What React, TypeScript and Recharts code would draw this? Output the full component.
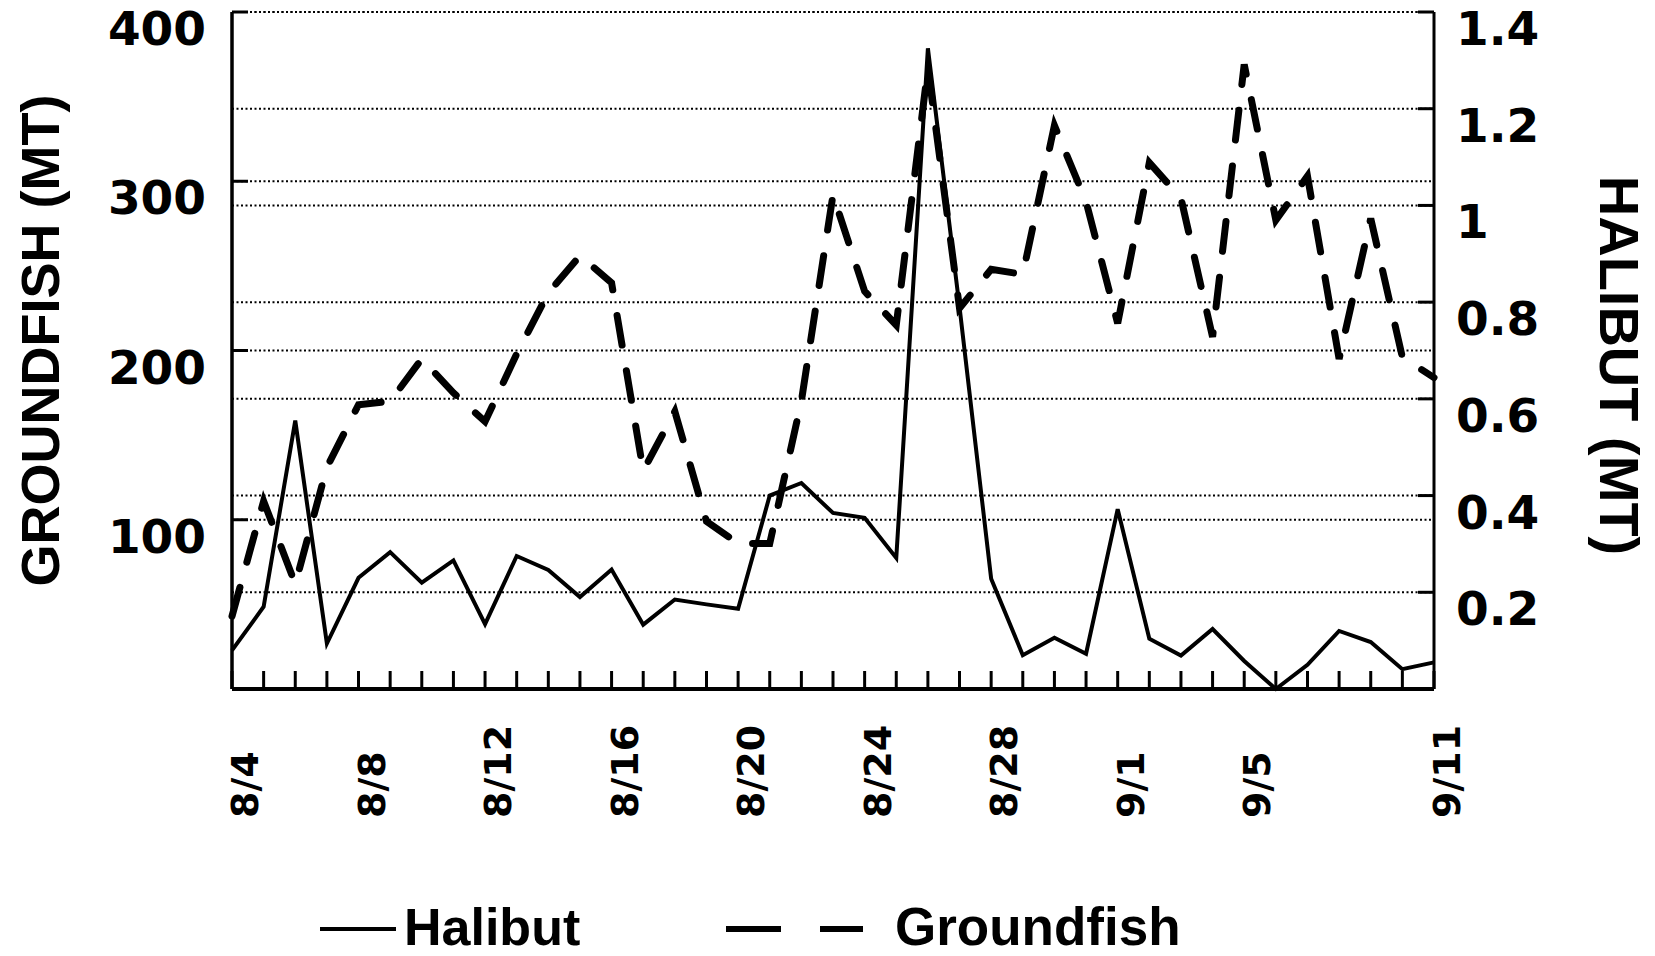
import { CartesianGrid, Line, LineChart, XAxis, YAxis } from "recharts";

const dates = [
  "8/4", "8/5", "8/6", "8/7", "8/8", "8/9", "8/10", "8/11", "8/12", "8/13",
  "8/14", "8/15", "8/16", "8/17", "8/18", "8/19", "8/20", "8/21", "8/22", "8/23",
  "8/24", "8/25", "8/26", "8/27", "8/28", "8/29", "8/30", "8/31", "9/1", "9/2",
  "9/3", "9/4", "9/5", "9/6", "9/7", "9/8", "9/9", "9/10", "9/11",
];

// halibut (MT), right axis
const halibut = [
  0.08, 0.17, 0.555, 0.094, 0.23, 0.283, 0.22, 0.266, 0.134, 0.275,
  0.246, 0.19, 0.247, 0.133, 0.185, 0.175, 0.166, 0.4, 0.426, 0.364,
  0.354, 0.271, 1.325, 0.79, 0.228, 0.07, 0.106, 0.073, 0.372, 0.104,
  0.069, 0.124, 0.058, 0, 0.05, 0.12, 0.097, 0.041, 0.055,
];

// groundfish (MT), left axis
const groundfish = [
  43, 111, 62, 131, 168, 170, 195, 175, 158, 198,
  234, 256, 240, 129, 164, 99, 86, 86, 170, 292,
  235, 215, 367, 225, 248, 245, 333, 288, 216, 311,
  290, 208, 369, 277, 303, 195, 278, 196, 184,
];

const labeledDates = ["8/4", "8/8", "8/12", "8/16", "8/20", "8/24", "8/28", "9/1", "9/5", "9/11"];
const groundfishTicks = [100, 200, 300, 400];
const halibutTicks = [0.2, 0.4, 0.6, 0.8, 1, 1.2, 1.4];

const data = dates.map((date, i) => ({ date, halibut: halibut[i], groundfish: groundfish[i] }));

const tickFont = { fontFamily: "DejaVu Sans", fontWeight: 700, fill: "#000" };
const titleFont = { fontFamily: "Liberation Sans", fontWeight: 700, fill: "#000" };

function LeftTick({ x, y, payload }: any) {
  return (
    <g>
      <line x1={x} x2={x + 16} y1={y} y2={y} stroke="#000" strokeWidth={3} />
      <text x={x - 26} y={y + 33} textAnchor="end" fontSize={47} {...tickFont}>
        {payload.value}
      </text>
    </g>
  );
}

function RightTick({ x, y, payload }: any) {
  return (
    <g>
      <line x1={x - 16} x2={x} y1={y} y2={y} stroke="#000" strokeWidth={3} />
      <text x={x + 22} y={y + 33} textAnchor="start" fontSize={47} {...tickFont}>
        {payload.value}
      </text>
    </g>
  );
}

function DateTick({ x, y, payload }: any) {
  const show = labeledDates.includes(payload.value);
  return (
    <g>
      <line x1={x} x2={x} y1={y} y2={y - 18} stroke="#000" strokeWidth={3} />
      {show && (
        <text transform={`translate(${x + 26},${y + 129}) rotate(-90)`} textAnchor="start" fontSize={38} {...tickFont}>
          {payload.value}
        </text>
      )}
    </g>
  );
}

function LeftTitle({ viewBox }: any) {
  const cx = viewBox.x + 27;
  const cy = viewBox.y + viewBox.height / 2 - 10;
  return (
    <text transform={`translate(${cx},${cy}) rotate(-90)`} textAnchor="middle" fontSize={54} {...titleFont}>
      GROUNDFISH (MT)
    </text>
  );
}

function RightTitle({ viewBox }: any) {
  const cx = viewBox.x + 166;
  const cy = viewBox.y + viewBox.height / 2 + 15;
  return (
    <text transform={`translate(${cx},${cy}) rotate(90)`} textAnchor="middle" fontSize={56} {...titleFont}>
      HALIBUT (MT)
    </text>
  );
}

function ChartLegend() {
  return (
    <svg width={1655} height={956} style={{ position: "absolute", left: 0, top: 0, pointerEvents: "none" }}>
      <line x1={320} x2={396} y1={929} y2={929} stroke="#000" strokeWidth={4} />
      <text x={404} y={945} fontSize={52} {...titleFont}>Halibut</text>
      <line x1={726} x2={781} y1={929} y2={929} stroke="#000" strokeWidth={6} />
      <line x1={820} x2={863} y1={929} y2={929} stroke="#000" strokeWidth={6} />
      <text x={895} y={945} fontSize={53} {...titleFont}>Groundfish</text>
    </svg>
  );
}

export default function App() {
  return (
    <div style={{ position: "absolute", left: 0, top: 0, width: 1655, height: 956, background: "#fff" }}>
      <LineChart width={1655} height={956} data={data} margin={{ top: 12, right: 21, bottom: 67, left: 32 }}>
        <CartesianGrid yAxisId="left" vertical={false} stroke="#000" strokeWidth={2} strokeDasharray="2 2.5" />
        <CartesianGrid yAxisId="right" vertical={false} stroke="#000" strokeWidth={2} strokeDasharray="2 2.5" />
        <XAxis
          dataKey="date"
          interval={0}
          height={200}
          tickSize={0}
          tickMargin={0}
          tick={DateTick}
          axisLine={{ stroke: "#000", strokeWidth: 4 }}
          tickLine={false}
        />
        <XAxis xAxisId="top" orientation="top" dataKey="date" height={0} tick={false} tickLine={false} axisLine={{ stroke: "#000", strokeWidth: 3 }} />
        <YAxis
          yAxisId="left"
          width={200}
          domain={[0, 400]}
          ticks={groundfishTicks}
          tickSize={0}
          tickMargin={0}
          tick={LeftTick}
          tickLine={false}
          axisLine={{ stroke: "#000", strokeWidth: 3.5 }}
          label={(props: any) => <LeftTitle {...props} />}
        />
        <YAxis
          yAxisId="right"
          orientation="right"
          width={200}
          domain={[0, 1.4]}
          ticks={halibutTicks}
          tickSize={0}
          tickMargin={0}
          tick={RightTick}
          tickLine={false}
          axisLine={{ stroke: "#000", strokeWidth: 3 }}
          label={(props: any) => <RightTitle {...props} />}
        />
        <Line
          yAxisId="left"
          type="linear"
          dataKey="groundfish"
          stroke="#000"
          strokeWidth={7}
          strokeDasharray="30 26"
          strokeLinecap="round"
          dot={false}
          isAnimationActive={false}
        />
        <Line
          yAxisId="right"
          type="linear"
          dataKey="halibut"
          stroke="#000"
          strokeWidth={4}
          dot={false}
          isAnimationActive={false}
        />
      </LineChart>
      <ChartLegend />
    </div>
  );
}
